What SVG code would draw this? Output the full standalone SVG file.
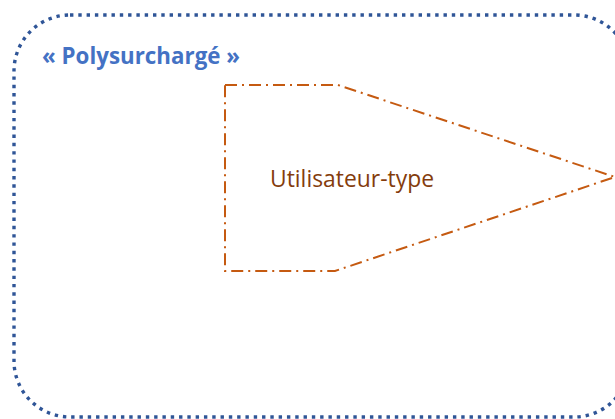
<svg xmlns="http://www.w3.org/2000/svg" width="615" height="419" viewBox="0 0 615 419">
<style>
.frame{fill:none;stroke:#2F5597;stroke-width:3.4;stroke-dasharray:3.4 4.9}
.pent{fill:none;stroke:#C55A11;stroke-width:2;stroke-dasharray:12 5 2 5}
.title{font-family:"Open Sans","Liberation Sans",sans-serif;font-weight:bold;font-size:23px;fill:#4472C4}
.lbl{font-family:"Open Sans","Liberation Sans",sans-serif;font-size:24px;fill:#843C0C}
</style>
<g id="frame">
<rect class="frame" x="14" y="15" width="616" height="402" rx="56" ry="56"/>
<text class="title" x="42" y="64" textLength="198" lengthAdjust="spacingAndGlyphs">«  Polysurchargé »</text>
</g>
<g id="utilisateur-type">
<path class="pent" d="M225 85 L338 85 L615 177 L335 271 L225 271 Z"/>
<text class="lbl" x="270" y="187" textLength="164" lengthAdjust="spacingAndGlyphs">Utilisateur-type</text>
</g>
<g id="connectors"/>
</svg>
